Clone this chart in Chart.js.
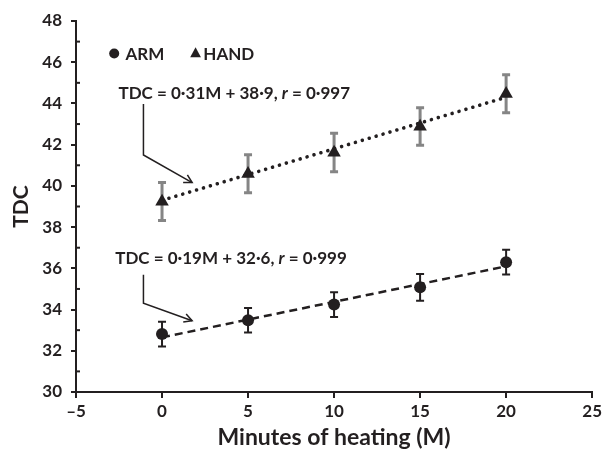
<!DOCTYPE html>
<html>
<head>
<meta charset="utf-8">
<script src="https://cdn.jsdelivr.net/npm/chart.js@4.4.1/dist/chart.umd.min.js"></script>
<style>
  html, body { margin: 0; padding: 0; background: #ffffff; }
  #wrap { width: 605px; height: 456px; position: relative; }
</style>
</head>
<body>
<div id="wrap"><canvas id="c" width="605" height="456"></canvas></div>
<script>
// ---- data ----
const minutes = [0, 5, 10, 15, 20];
const armMeans = [32.81, 33.48, 34.24, 35.08, 36.3];
const armErrors = [0.6, 0.59, 0.6, 0.65, 0.6];
const handMeans = [39.24, 40.59, 41.62, 42.88, 44.47];
const handErrors = [0.92, 0.92, 0.93, 0.91, 0.92];
const fitMinutes = [0, 20];
const armFit = [32.65, 36.1];
const handFit = [39.3, 44.3];
const seriesNames = ['ARM', 'HAND'];
const handEquation = ['TDC = 0·31M + 38·9, ', 'r', ' = 0·997'];
const armEquation = ['TDC = 0·19M + 32·6, ', 'r', ' = 0·999'];
const xTitle = 'Minutes of heating (M)';
const yTitle = 'TDC';

const INK = '#231f20';
const GREY = '#858585';
const FONT = 'Lato, "Open Sans", sans-serif';

function pts(xs, ys) { return xs.map((x, i) => ({x: x, y: ys[i]})); }

const extras = {
  id: 'extras',
  beforeDatasetsDraw(chart) {
    const {ctx, scales: {x, y}} = chart;
    ctx.save();
    // minor inside ticks on y axis
    ctx.strokeStyle = INK; ctx.lineWidth = 2;
    for (let v = 31; v < 48; v += 2) {
      const py = y.getPixelForValue(v);
      ctx.beginPath(); ctx.moveTo(x.left, py); ctx.lineTo(x.left + 4, py); ctx.stroke();
    }
    // error bars
    const bars = [[armMeans, armErrors, INK, 2], [handMeans, handErrors, GREY, 3]];
    bars.forEach(([m, e, col, w]) => {
      ctx.strokeStyle = col; ctx.lineWidth = w;
      minutes.forEach((mx, i) => {
        const px = x.getPixelForValue(mx);
        const top = y.getPixelForValue(m[i] + e[i]);
        const bot = y.getPixelForValue(m[i] - e[i]);
        ctx.beginPath();
        ctx.moveTo(px, top); ctx.lineTo(px, bot);
        ctx.moveTo(px - 4, top); ctx.lineTo(px + 4, top);
        ctx.moveTo(px - 4, bot); ctx.lineTo(px + 4, bot);
        ctx.stroke();
      });
    });
    ctx.restore();
  },
  afterDatasetsDraw(chart) {
    const {ctx, scales: {x, y}} = chart;
    ctx.save();
    ctx.fillStyle = INK; ctx.strokeStyle = INK;
    ctx.textAlign = 'left';
    ctx.textBaseline = 'middle';
    // legend
    const ly = y.getPixelForValue(46.42);
    ctx.beginPath(); ctx.arc(x.getPixelForValue(-2.78), ly, 5, 0, Math.PI * 2); ctx.fill();
    const tx = x.getPixelForValue(1.95), tr = 6.2;
    ctx.beginPath();
    ctx.moveTo(tx, ly - tr); ctx.lineTo(tx + tr * 0.866, ly + tr * 0.6); ctx.lineTo(tx - tr * 0.866, ly + tr * 0.6); ctx.closePath(); ctx.fill();
    ctx.font = 'bold 17px ' + FONT;
    ctx.fillText(seriesNames[0], x.getPixelForValue(-2.12), ly + 1);
    ctx.fillText(seriesNames[1], x.getPixelForValue(2.4), ly + 1);

    // equations
    function eq(parts, xv, yv) {
      let px = x.getPixelForValue(xv);
      const py = y.getPixelForValue(yv);
      parts.forEach((p, i) => {
        ctx.font = (i === 1 ? 'italic bold ' : 'bold ') + '17px ' + FONT;
        ctx.fillText(p, px, py);
        px += ctx.measureText(p).width;
      });
    }
    eq(handEquation, -2.53, 44.48);
    eq(armEquation, -2.72, 36.49);

    // arrows
    function arrow(xa, ya, yb, xc, yc) {
      const p1 = [x.getPixelForValue(xa), y.getPixelForValue(ya)];
      const p2 = [x.getPixelForValue(xa), y.getPixelForValue(yb)];
      const p3 = [x.getPixelForValue(xc), y.getPixelForValue(yc)];
      ctx.lineWidth = 1.5;
      ctx.beginPath(); ctx.moveTo(p1[0], p1[1]); ctx.lineTo(p2[0], p2[1]); ctx.lineTo(p3[0], p3[1]); ctx.stroke();
      const ang = Math.atan2(p3[1] - p2[1], p3[0] - p2[0]);
      const L = 9, a = 0.5;
      ctx.beginPath();
      ctx.moveTo(p3[0] - L * Math.cos(ang - a), p3[1] - L * Math.sin(ang - a));
      ctx.lineTo(p3[0], p3[1]);
      ctx.lineTo(p3[0] - L * Math.cos(ang + a), p3[1] - L * Math.sin(ang + a));
      ctx.stroke();
    }
    arrow(-1.08, 43.97, 41.5, 1.75, 40.16);
    arrow(-1.08, 35.69, 34.31, 1.75, 33.46);
    ctx.restore();
  }
};

new Chart(document.getElementById('c'), {
  type: 'scatter',
  data: {
    datasets: [
      { label: seriesNames[0], data: pts(minutes, armMeans), pointStyle: 'circle', pointRadius: 6,
        backgroundColor: INK, borderColor: INK, borderWidth: 0, pointHoverRadius: 6 },
      { label: seriesNames[1], data: pts(minutes, handMeans), pointStyle: 'triangle', pointRadius: 7.8,
        backgroundColor: INK, borderColor: INK, borderWidth: 0, pointHoverRadius: 7.8 },
      { type: 'line', label: 'ARM fit', data: pts(fitMinutes, armFit), borderColor: INK, borderWidth: 2.5,
        borderDash: [8, 5], pointRadius: 0, fill: false },
      { type: 'line', label: 'HAND fit', data: pts(fitMinutes, handFit), borderColor: INK, borderWidth: 3.6,
        borderDash: [0.01, 7.2], borderCapStyle: 'round', pointRadius: 0, fill: false }
    ]
  },
  options: {
    responsive: false,
    animation: false,
    devicePixelRatio: 1,
    layout: { padding: { top: 21, right: 11, left: 0, bottom: 0 } },
    plugins: { legend: { display: false }, tooltip: { enabled: false } },
    scales: {
      x: {
        type: 'linear', min: -5, max: 25,
        afterFit(s) { s.height = 64; },
        ticks: { stepSize: 5, color: INK, padding: 3, font: { family: FONT, size: 17, weight: 'bold' },
          callback: v => v < 0 ? '\u2013' + Math.abs(v) : String(v) },
        grid: { display: true, drawOnChartArea: false, drawTicks: true, tickLength: 6, color: INK, lineWidth: 2 },
        border: { display: true, color: INK, width: 2 },
        title: { display: true, text: xTitle, color: INK, font: { family: FONT, size: 23, weight: 'bold' },
          padding: { top: 0, bottom: 5 } }
      },
      y: {
        type: 'linear', min: 30, max: 48,
        afterFit(s) { s.width = 76; },
        ticks: { stepSize: 1, color: INK, padding: 9, font: { family: FONT, size: 17, weight: 'bold' },
          autoSkip: false,
          callback: v => (v % 2 === 0 ? String(v) : '') },
        grid: { display: true, drawOnChartArea: false, drawTicks: true, tickLength: 5, lineWidth: 2,
          color: c => (c.tick && c.tick.value % 2 === 0 ? INK : 'rgba(0,0,0,0)') },
        border: { display: true, color: INK, width: 2 },
        title: { display: true, text: yTitle, color: INK, font: { family: FONT, size: 21, weight: 'bold' },
          padding: { top: 9, bottom: 0 } }
      }
    }
  },
  plugins: [extras]
});
</script>
</body>
</html>
